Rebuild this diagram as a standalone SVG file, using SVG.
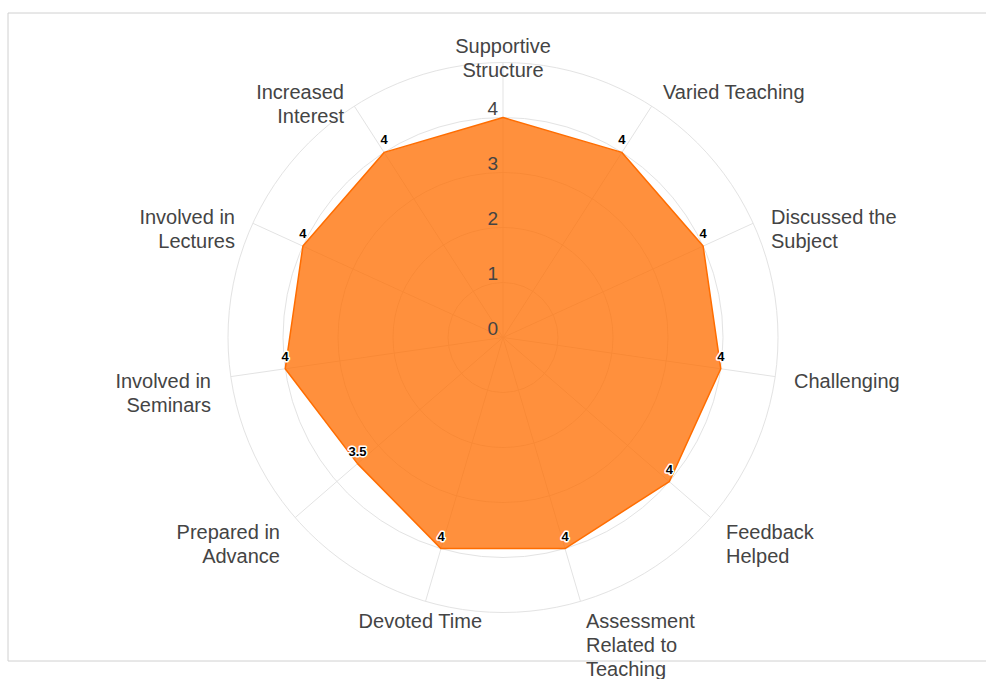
<svg xmlns="http://www.w3.org/2000/svg" width="986" height="679" viewBox="0 0 986 679">
<style>
.grid{fill:none;stroke:#e3e3e3;stroke-width:1}
.ax{font-family:"Liberation Sans",Arial,sans-serif;font-size:20px;fill:#444}
.tick{font-family:"Liberation Sans",Arial,sans-serif;font-size:19px;fill:#444;text-anchor:end}
.dl{font-family:"Liberation Sans",Arial,sans-serif;font-size:13px;font-weight:bold;fill:#000;stroke:#fff;stroke-width:3px;stroke-linejoin:round;paint-order:stroke;text-anchor:middle}
.s{text-anchor:start}.e{text-anchor:end}.m{text-anchor:middle}
</style>
<rect width="986" height="679" fill="#fff"/>
<path d="M990 13 H8 V661 H990" fill="none" stroke="#d0d0d0" stroke-width="1"/>
<g id="grid">
<circle class="grid" cx="503" cy="337.5" r="55"/>
<circle class="grid" cx="503" cy="337.5" r="110"/>
<circle class="grid" cx="503" cy="337.5" r="165"/>
<circle class="grid" cx="503" cy="337.5" r="220"/>
<circle class="grid" cx="503" cy="337.5" r="275"/>
</g>
<g id="connectors">
<path class="grid" d="M503 337.5L503 62.5M503 337.5L651.7 106.1M503 337.5L753.1 223.3M503 337.5L775.2 376.6M503 337.5L710.8 517.6M503 337.5L580.5 601.4M503 337.5L425.5 601.4M503 337.5L295.2 517.6M503 337.5L230.8 376.6M503 337.5L252.9 223.3M503 337.5L354.3 106.1"/>
</g>
<g id="series">
<polygon points="503,117.5 621.9,152.4 703.1,246.1 720.8,368.8 669.3,481.6 565,548.6 441,548.6 357.5,463.6 285.2,368.8 302.9,246.1 384.1,152.4" fill="#ff6d00" fill-opacity="0.76" stroke="#ff6d00" stroke-width="1.5" stroke-linejoin="round"/>
</g>
<g id="ticks">
<text class="tick" x="498" y="334.5">0</text>
<text class="tick" x="498" y="279.5">1</text>
<text class="tick" x="498" y="224.5">2</text>
<text class="tick" x="498" y="169.5">3</text>
<text class="tick" x="498" y="114.5">4</text>
</g>
<g id="data-labels">
<text class="dl" x="621.9" y="144.4">4</text>
<text class="dl" x="703.1" y="238.1">4</text>
<text class="dl" x="720.8" y="360.8">4</text>
<text class="dl" x="669.3" y="473.6">4</text>
<text class="dl" x="565" y="540.6">4</text>
<text class="dl" x="441" y="540.6">4</text>
<text class="dl" x="357.5" y="455.6">3.5</text>
<text class="dl" x="285.2" y="360.8">4</text>
<text class="dl" x="302.9" y="238.1">4</text>
<text class="dl" x="384.1" y="144.4">4</text>
</g>
<g id="node-supportive-structure"><text class="ax m" x="503" y="53">Supportive</text><text class="ax m" x="503" y="77">Structure</text></g>
<g id="node-varied-teaching"><text class="ax s" x="663" y="99">Varied Teaching</text></g>
<g id="node-discussed-the-subject"><text class="ax s" x="771" y="224">Discussed the</text><text class="ax s" x="771" y="248">Subject</text></g>
<g id="node-challenging"><text class="ax s" x="794" y="388">Challenging</text></g>
<g id="node-feedback-helped"><text class="ax s" x="726" y="539">Feedback</text><text class="ax s" x="726" y="563">Helped</text></g>
<g id="node-assessment"><text class="ax s" x="586" y="628">Assessment</text><text class="ax s" x="586" y="652">Related to</text><text class="ax s" x="586" y="676">Teaching</text></g>
<g id="node-devoted-time"><text class="ax e" x="482" y="628">Devoted Time</text></g>
<g id="node-prepared-in-advance"><text class="ax e" x="280" y="539">Prepared in</text><text class="ax e" x="280" y="563">Advance</text></g>
<g id="node-involved-in-seminars"><text class="ax e" x="211" y="388">Involved in</text><text class="ax e" x="211" y="412">Seminars</text></g>
<g id="node-involved-in-lectures"><text class="ax e" x="235" y="224">Involved in</text><text class="ax e" x="235" y="248">Lectures</text></g>
<g id="node-increased-interest"><text class="ax e" x="344" y="99">Increased</text><text class="ax e" x="344" y="123">Interest</text></g>
</svg>
